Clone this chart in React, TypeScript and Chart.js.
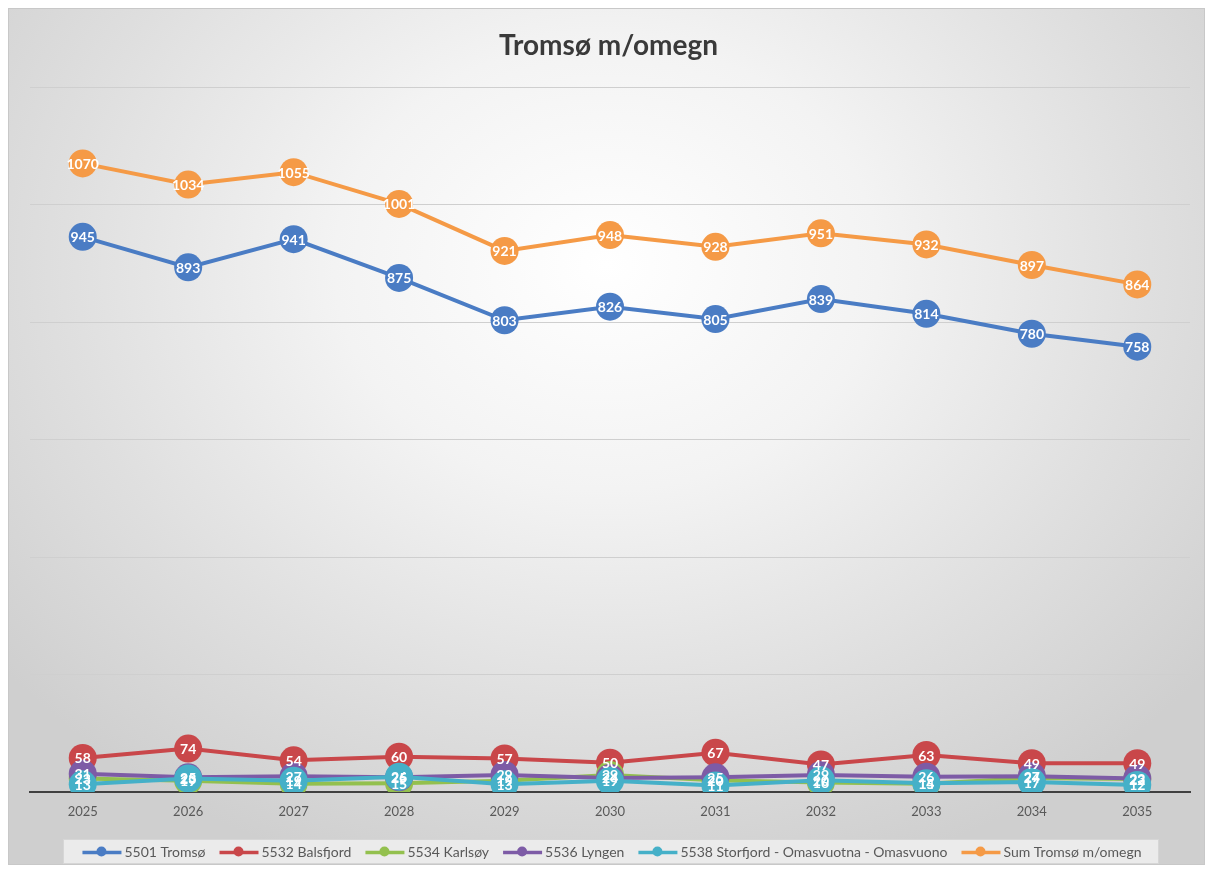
import React, { useEffect, useRef } from "react";
import { Chart, registerables } from "chart.js";

Chart.register(...registerables);

const years = ["2025", "2026", "2027", "2028", "2029", "2030", "2031", "2032", "2033", "2034", "2035"];
const tromso = [945, 893, 941, 875, 803, 826, 805, 839, 814, 780, 758];
const balsfjord = [58, 74, 54, 60, 57, 50, 67, 47, 63, 49, 49];
const karlsoy = [23, 19, 14, 15, 19, 29, 20, 16, 14, 24, 22];
const lyngen = [31, 25, 27, 25, 29, 24, 25, 29, 26, 27, 23];
const storfjord = [13, 23, 19, 26, 13, 19, 11, 20, 15, 17, 12];
const sumTotal = [1070, 1034, 1055, 1001, 921, 948, 928, 951, 932, 897, 864];

const seriesNames = [
  "5501 Tromsø",
  "5532 Balsfjord",
  "5534 Karlsøy",
  "5536 Lyngen",
  "5538 Storfjord - Omasvuotna - Omasvuono",
  "Sum Tromsø m/omegn",
];
const seriesColors = ["#4a7cc4", "#c9474a", "#93c04e", "#7d5ba6", "#45b0c8", "#f59a46"];
const seriesData = [tromso, balsfjord, karlsoy, lyngen, storfjord, sumTotal];

const FONT = "Lato, 'Open Sans', sans-serif";

const labelPlugin = {
  id: "pointLabels",
  afterDatasetsDraw(chart: any) {
    const ctx = chart.ctx;
    ctx.save();
    ctx.font = `bold 14px ${FONT}`;
    ctx.fillStyle = "#ffffff";
    ctx.textAlign = "center";
    ctx.textBaseline = "middle";
    chart.data.datasets.forEach((ds: any, i: number) => {
      const meta = chart.getDatasetMeta(i);
      meta.data.forEach((el: any, j: number) => {
        ctx.fillText(String(ds.data[j]), el.x, el.y + 1);
      });
    });
    ctx.restore();
  },
};

const decorPlugin = {
  id: "decor",
  afterDraw(chart: any) {
    const ctx = chart.ctx;
    const w = chart.width;
    ctx.save();
    // Title
    ctx.font = `bold 28px ${FONT}`;
    ctx.fillStyle = "#3a3a3a";
    ctx.textAlign = "center";
    ctx.textBaseline = "middle";
    ctx.fillText("Tromsø m/omegn", w / 2 + 2, 37);

    // Legend
    ctx.font = `14px ${FONT}`;
    ctx.textBaseline = "middle";
    ctx.textAlign = "left";
    const iconW = 44;
    const gap = 12;
    const widths = seriesNames.map((n) => iconW + ctx.measureText(n).width);
    const total = widths.reduce((a, b) => a + b, 0) + gap * (seriesNames.length - 1);
    const boxX = 54;
    const boxW = 1096;
    const boxY = 830;
    const boxH = 25;
    ctx.fillStyle = "rgba(236,236,236,0.95)";
    ctx.fillRect(boxX, boxY, boxW, boxH);
    ctx.strokeStyle = "#d6d6d6";
    ctx.lineWidth = 1;
    ctx.strokeRect(boxX + 0.5, boxY + 0.5, boxW - 1, boxH - 1);
    let x = boxX + (boxW - total) / 2;
    const cy = boxY + boxH / 2;
    seriesNames.forEach((n, i) => {
      ctx.strokeStyle = seriesColors[i];
      ctx.lineWidth = 3.5;
      ctx.beginPath();
      ctx.moveTo(x + 2, cy + 1);
      ctx.lineTo(x + 41, cy + 1);
      ctx.stroke();
      ctx.fillStyle = seriesColors[i];
      ctx.beginPath();
      ctx.arc(x + 21, cy, 5, 0, Math.PI * 2);
      ctx.fill();
      ctx.fillStyle = "#595959";
      ctx.fillText(n, x + iconW, cy + 1);
      x += widths[i] + gap;
    });
    ctx.restore();
  },
};

export default function App() {
  const ref = useRef<HTMLCanvasElement>(null);
  useEffect(() => {
    if (!ref.current) return;
    const chart = new Chart(ref.current, {
      type: "line",
      data: {
        labels: years,
        datasets: seriesData.map((d, i) => ({
          label: seriesNames[i],
          data: d,
          borderColor: seriesColors[i],
          backgroundColor: seriesColors[i],
          pointBackgroundColor: seriesColors[i],
          pointBorderColor: seriesColors[i],
          pointBorderWidth: 0,
          pointRadius: 14,
          borderWidth: 4,
          tension: 0,
          order: 6 - i,
        })),
      },
      options: {
        animation: false,
        responsive: false,
        maintainAspectRatio: false,
        layout: { padding: { left: 21, right: 8, top: 78, bottom: 42 } },
        plugins: {
          legend: { display: false },
          title: { display: false },
          tooltip: { enabled: false },
        },
        scales: {
          x: {
            offset: true,
            grid: { display: false, drawTicks: false },
            border: { display: true, color: "#404040", width: 2 },
            ticks: { color: "#595959", font: { family: FONT, size: 13 }, padding: 12, maxRotation: 0 },
            afterFit(scale: any) {
              scale.height = 30;
            },
          },
          y: {
            min: 0,
            max: 1200,
            ticks: { stepSize: 200, display: false },
            grid: { color: "#cfcfcf", lineWidth: 1, drawTicks: false },
            border: { display: false },
            afterFit(scale: any) {
              scale.width = 0;
            },
          },
        },
      },
      plugins: [labelPlugin, decorPlugin],
    });
    return () => chart.destroy();
  }, []);

  return (
    <div
      style={{
        width: 1197,
        height: 857,
        boxSizing: "border-box",
        border: "1px solid #c8c8c8",
        background:
          "radial-gradient(ellipse 65% 75% at 50% 30%, #ffffff 0%, #f3f3f3 35%, #dfdfdf 70%, #cfcfcf 100%)",
        position: "relative",
      }}
    >
      <canvas ref={ref} width={1195} height={855} style={{ display: "block" }} />
    </div>
  );
}
